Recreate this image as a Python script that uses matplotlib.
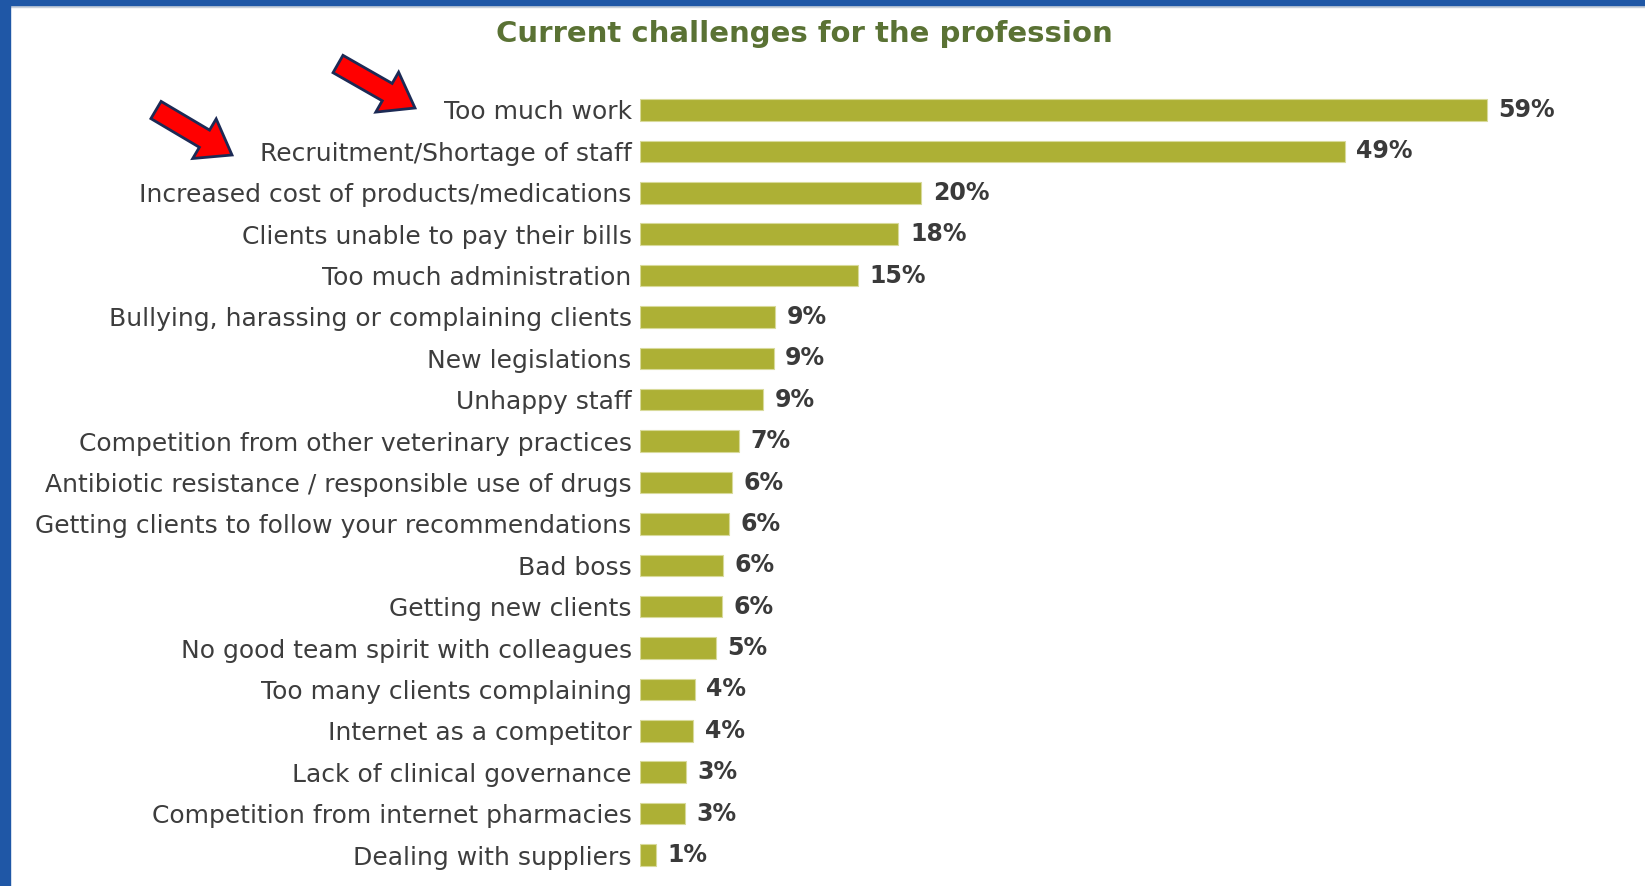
import matplotlib
matplotlib.use("Agg")
import matplotlib.pyplot as plt
from matplotlib.patches import Rectangle, FancyArrow
from matplotlib.transforms import IdentityTransform

# data (bar lengths in %)
challenges = ["Too much work", "Recruitment/Shortage of staff",
              "Increased cost of products/medications", "Clients unable to pay their bills",
              "Too much administration", "Bullying, harassing or complaining clients",
              "New legislations", "Unhappy staff",
              "Competition from other veterinary practices",
              "Antibiotic resistance / responsible use of drugs",
              "Getting clients to follow your recommendations", "Bad boss",
              "Getting new clients", "No good team spirit with colleagues",
              "Too many clients complaining", "Internet as a competitor",
              "Lack of clinical governance", "Competition from internet pharmacies",
              "Dealing with suppliers"]
shares = [59.0, 49.1, 19.6, 18.0, 15.2, 9.4, 9.3, 8.6, 6.9, 6.4,
          6.2, 5.8, 5.7, 5.3, 3.8, 3.7, 3.2, 3.1, 1.1]

W, H = 1645, 886
fig = plt.figure(figsize=(W / 100, H / 100), dpi=100)
fig.patch.set_facecolor("white")

# axes placed in pixel terms
left_px, right_px = 640, 1540
top_px, bot_px = 89.3, 875.7
ax = fig.add_axes([left_px / W, 1 - bot_px / H, (right_px - left_px) / W, (bot_px - top_px) / H])

y = list(range(len(challenges)))
ax.barh(y, shares, height=0.52, color="#adb035", edgecolor="#d8da9a", linewidth=0.8)
ax.set_ylim(len(challenges) - 0.5, -0.5)
ax.set_xlim(0, (right_px - left_px) / (847 / 59.0))

ax.set_yticks(y)
ax.set_yticklabels(challenges, fontsize=18, color="#3d3d3d")
ax.tick_params(axis="y", length=0, pad=6)
ax.set_xticks([])
for s in ax.spines.values():
    s.set_visible(False)

for i, v in enumerate(shares):
    ax.text(v + 0.8, i, f"{v:.0f}%", va="center", ha="left",
            fontsize=17, fontweight="bold", color="#3a3a3a")

fig.text(804 / W, 1 - 34 / H, "Current challenges for the profession",
         ha="center", va="center", fontsize=21, fontweight="bold", color="#5a7234")

# frame: blue band on left and top
fig.patches.append(Rectangle((0, 0), 10 / W, 1, transform=fig.transFigure,
                             color="#1f57a6", zorder=5))
fig.patches.append(Rectangle((0, 1 - 5 / H), 1, 5 / H, transform=fig.transFigure,
                             color="#1f57a6", zorder=5))
fig.patches.append(Rectangle((0, 1 - 7 / H), 1, 2 / H, transform=fig.transFigure,
                             color="#c9d0da", zorder=4))

# red arrows pointing at the top two items
for (x0, y0, x1, y1) in [(338, 64, 415, 108), (156, 110, 232, 155)]:
    arr = FancyArrow(x0, H - y0, x1 - x0, -(y1 - y0), width=20, head_width=46,
                     head_length=32, length_includes_head=True,
                     facecolor="#ff0000", edgecolor="#1c2a55", linewidth=2,
                     transform=IdentityTransform())
    fig.add_artist(arr)

fig.savefig("out.png", dpi=100, facecolor="white")
